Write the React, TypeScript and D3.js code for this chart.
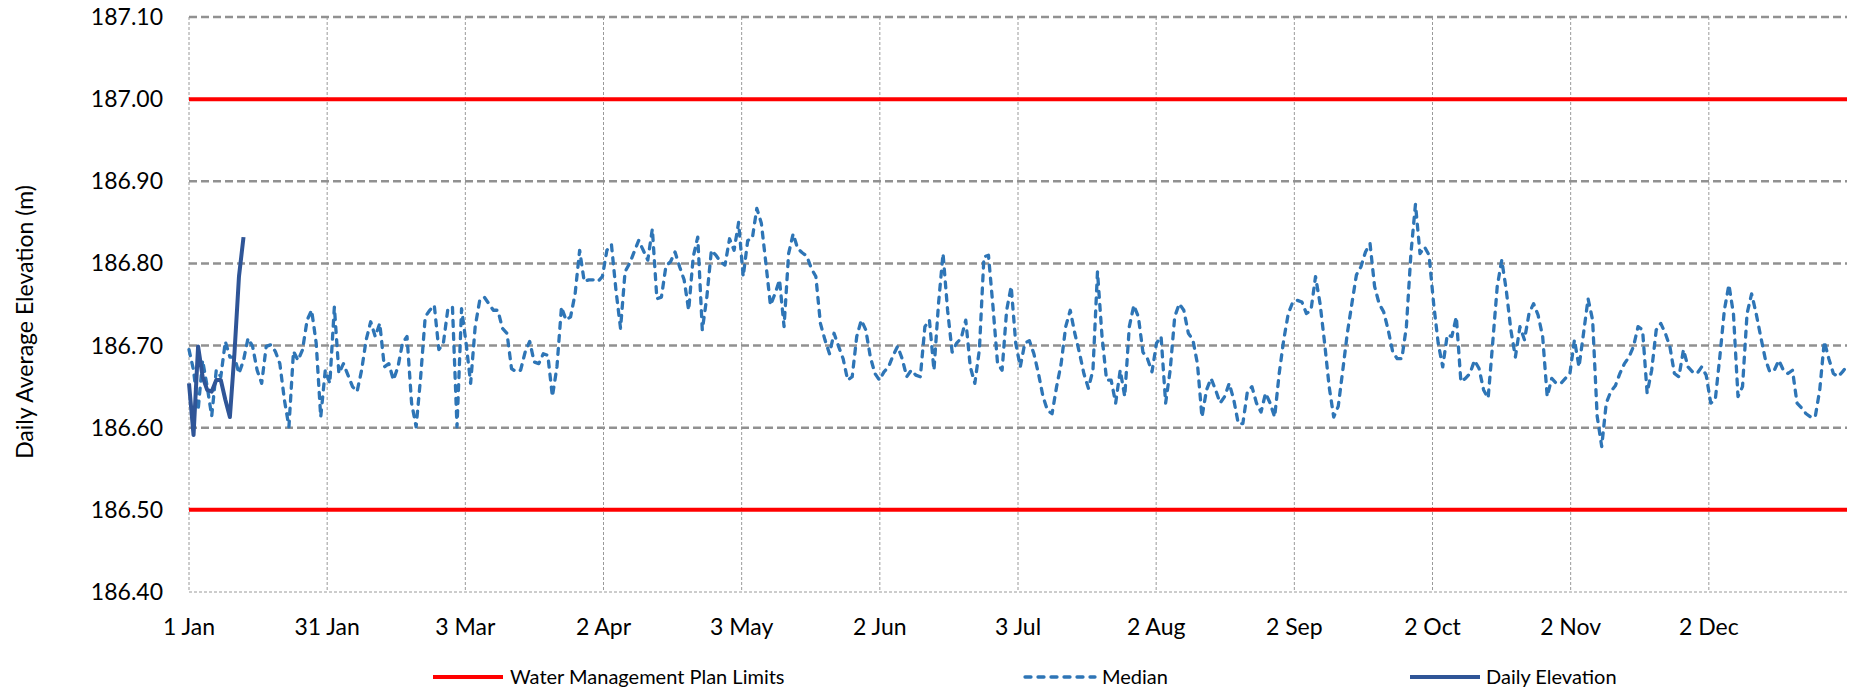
import React from "react";
import * as d3 from "d3";

// median daily elevation, one value per day from 1 Jan
const medianValues = [
  186.695, 186.670, 186.621, 186.682, 186.650, 186.614, 186.670, 186.662, 186.705, 186.686,
  186.686, 186.666, 186.682, 186.709, 186.699, 186.670, 186.654, 186.699, 186.701, 186.693,
  186.678, 186.634, 186.601, 186.693, 186.682, 186.695, 186.731, 186.743, 186.703, 186.613,
  186.670, 186.654, 186.747, 186.666, 186.678, 186.664, 186.650, 186.644, 186.670, 186.707,
  186.729, 186.711, 186.727, 186.674, 186.678, 186.658, 186.674, 186.703, 186.711, 186.630,
  186.601, 186.662, 186.735, 186.743, 186.749, 186.695, 186.703, 186.745, 186.747, 186.601,
  186.745, 186.703, 186.654, 186.723, 186.755, 186.759, 186.751, 186.743, 186.743, 186.721,
  186.715, 186.672, 186.668, 186.670, 186.692, 186.705, 186.680, 186.678, 186.690, 186.688,
  186.638, 186.674, 186.747, 186.731, 186.735, 186.763, 186.816, 186.778, 186.780, 186.780,
  186.778, 186.784, 186.816, 186.823, 186.767, 186.721, 186.790, 186.800, 186.814, 186.828,
  186.816, 186.804, 186.842, 186.757, 186.759, 186.797, 186.802, 186.814, 186.796, 186.780,
  186.743, 186.808, 186.832, 186.719, 186.759, 186.816, 186.810, 186.802, 186.798, 186.830,
  186.816, 186.850, 186.784, 186.828, 186.830, 186.867, 186.849, 186.800, 186.749, 186.763,
  186.780, 186.723, 186.812, 186.836, 186.818, 186.813, 186.809, 186.794, 186.784, 186.727,
  186.707, 186.690, 186.715, 186.699, 186.684, 186.658, 186.662, 186.711, 186.731, 186.719,
  186.686, 186.666, 186.658, 186.668, 186.674, 186.688, 186.699, 186.684, 186.662, 186.670,
  186.664, 186.662, 186.723, 186.731, 186.670, 186.751, 186.812, 186.743, 186.692, 186.703,
  186.709, 186.731, 186.674, 186.654, 186.695, 186.808, 186.810, 186.747, 186.678, 186.670,
  186.743, 186.772, 186.703, 186.674, 186.703, 186.706, 186.690, 186.666, 186.638, 186.621,
  186.617, 186.650, 186.678, 186.723, 186.743, 186.715, 186.692, 186.666, 186.648, 186.670,
  186.790, 186.711, 186.658, 186.658, 186.630, 186.670, 186.638, 186.723, 186.749, 186.735,
  186.692, 186.684, 186.668, 186.703, 186.711, 186.630, 186.670, 186.735, 186.751, 186.743,
  186.715, 186.707, 186.678, 186.613, 186.646, 186.660, 186.646, 186.630, 186.638, 186.654,
  186.634, 186.605, 186.605, 186.644, 186.650, 186.630, 186.619, 186.642, 186.630, 186.613,
  186.666, 186.707, 186.739, 186.753, 186.755, 186.753, 186.739, 186.743, 186.784, 186.751,
  186.703, 186.650, 186.613, 186.626, 186.670, 186.715, 186.751, 186.786, 186.796, 186.814,
  186.824, 186.772, 186.751, 186.741, 186.719, 186.692, 186.684, 186.684, 186.723, 186.812,
  186.872, 186.812, 186.820, 186.810, 186.751, 186.703, 186.674, 186.713, 186.711, 186.735,
  186.656, 186.660, 186.666, 186.682, 186.672, 186.646, 186.636, 186.703, 186.772, 186.804,
  186.767, 186.719, 186.686, 186.723, 186.707, 186.739, 186.751, 186.737, 186.711, 186.638,
  186.660, 186.654, 186.654, 186.660, 186.666, 186.707, 186.674, 186.715, 186.757, 186.731,
  186.614, 186.577, 186.630, 186.644, 186.651, 186.666, 186.678, 186.686, 186.699, 186.723,
  186.719, 186.642, 186.670, 186.719, 186.727, 186.715, 186.699, 186.666, 186.662, 186.695,
  186.674, 186.668, 186.666, 186.674, 186.664, 186.630, 186.634, 186.686, 186.743, 186.774,
  186.739, 186.638, 186.650, 186.739, 186.763, 186.739, 186.711, 186.684, 186.668, 186.670,
  186.682, 186.670, 186.666, 186.670, 186.630, 186.624, 186.617, 186.613, 186.613, 186.646,
  186.705, 186.684, 186.666, 186.662, 186.668, 186.675,
];

// this year's observed daily elevation so far
const dailyElevation = [
  186.654, 186.591, 186.699, 186.662, 186.646, 186.644, 186.658, 186.658, 186.634, 186.613,
  186.690, 186.784, 186.832,
];

const planLimits = [187.0, 186.5];

const xTickLabels = [
  "1 Jan", "31 Jan", "3 Mar", "2 Apr", "3 May", "2 Jun",
  "3 Jul", "2 Aug", "2 Sep", "2 Oct", "2 Nov", "2 Dec",
];

const yTicks = [186.4, 186.5, 186.6, 186.7, 186.8, 186.9, 187.0, 187.1];

const legendItems = ["Water Management Plan Limits", "Median", "Daily Elevation"];

const W = 1851;
const H = 689;
const margin = { top: 17, right: 4, bottom: 97, left: 189 };
const FONT = "Lato, Carlito, Calibri, 'Noto Sans', sans-serif";

const App = () => {
  const x = d3.scaleLinear().domain([0, 365]).range([margin.left, W - margin.right]);
  const y = d3.scaleLinear().domain([186.4, 187.1]).range([H - margin.bottom, margin.top]);

  const line = d3
    .line<number>()
    .x((_, i) => x(i))
    .y((d) => y(d));

  const tickDays = xTickLabels.map((_, i) => (i * 365) / 12);

  const red = "#ff0000";
  const medianBlue = "#2e75b6";
  const dailyBlue = "#2f5597";

  return (
    <>
      <style>{"body{margin:0}"}</style>
      <svg width={W} height={H} style={{ display: "block", background: "#fff" }}>
        {/* vertical grid */}
        {tickDays.map((d, i) => (
          <line
            key={"vx" + i}
            x1={x(d)}
            x2={x(d)}
            y1={y(187.1)}
            y2={y(186.4)}
            stroke="#9a9a9a"
            strokeWidth={1}
            strokeDasharray="3 2"
          />
        ))}
        {/* horizontal grid */}
        {yTicks.map((t, i) =>
          i === 0 ? (
            <line
              key={"hy" + i}
              x1={x(0)}
              x2={x(365)}
              y1={y(t)}
              y2={y(t)}
              stroke="#9a9a9a"
              strokeWidth={1}
              strokeDasharray="3 2"
            />
          ) : (
            <line
              key={"hy" + i}
              x1={x(0)}
              x2={x(365)}
              y1={y(t)}
              y2={y(t)}
              stroke="#919191"
              strokeWidth={2.5}
              strokeDasharray="8 4"
            />
          )
        )}

        {/* limits */}
        {planLimits.map((v, i) => (
          <line key={"lim" + i} x1={x(0)} x2={x(365)} y1={y(v)} y2={y(v)} stroke={red} strokeWidth={4} />
        ))}

        <path
          d={line(medianValues) || ""}
          fill="none"
          stroke={medianBlue}
          strokeWidth={3.3}
          strokeDasharray="6 7"
          strokeLinecap="round"
          strokeLinejoin="round"
        />
        <path
          d={line(dailyElevation) || ""}
          fill="none"
          stroke={dailyBlue}
          strokeWidth={4}
          strokeLinejoin="round"
        />

        {/* y axis labels */}
        {yTicks.map((t, i) => (
          <text
            key={"yl" + i}
            x={163}
            y={y(t) + 8}
            textAnchor="end"
            fontFamily={FONT}
            fontSize={23}
            fill="#000"
          >
            {t.toFixed(2)}
          </text>
        ))}
        {/* x axis labels */}
        {tickDays.map((d, i) => (
          <text
            key={"xl" + i}
            x={x(d)}
            y={635}
            textAnchor="middle"
            fontFamily={FONT}
            fontSize={23}
            fill="#000"
          >
            {xTickLabels[i]}
          </text>
        ))}

        <text
          transform="translate(33,322) rotate(-90)"
          textAnchor="middle"
          fontFamily={FONT}
          fontSize={23}
          fill="#000"
        >
          Daily Average Elevation (m)
        </text>

        {/* legend */}
        <g fontFamily={FONT} fontSize={20} fill="#000">
          <line x1={433} x2={503} y1={677} y2={677} stroke={red} strokeWidth={4} />
          <text x={510} y={684}>{legendItems[0]}</text>
          <line
            x1={1025}
            x2={1095}
            y1={677}
            y2={677}
            stroke={medianBlue}
            strokeWidth={3.3}
            strokeDasharray="6 7"
            strokeLinecap="round"
          />
          <text x={1102} y={684}>{legendItems[1]}</text>
          <line x1={1410} x2={1480} y1={677} y2={677} stroke={dailyBlue} strokeWidth={4} />
          <text x={1486} y={684}>{legendItems[2]}</text>
        </g>
      </svg>
    </>
  );
};

export default App;
